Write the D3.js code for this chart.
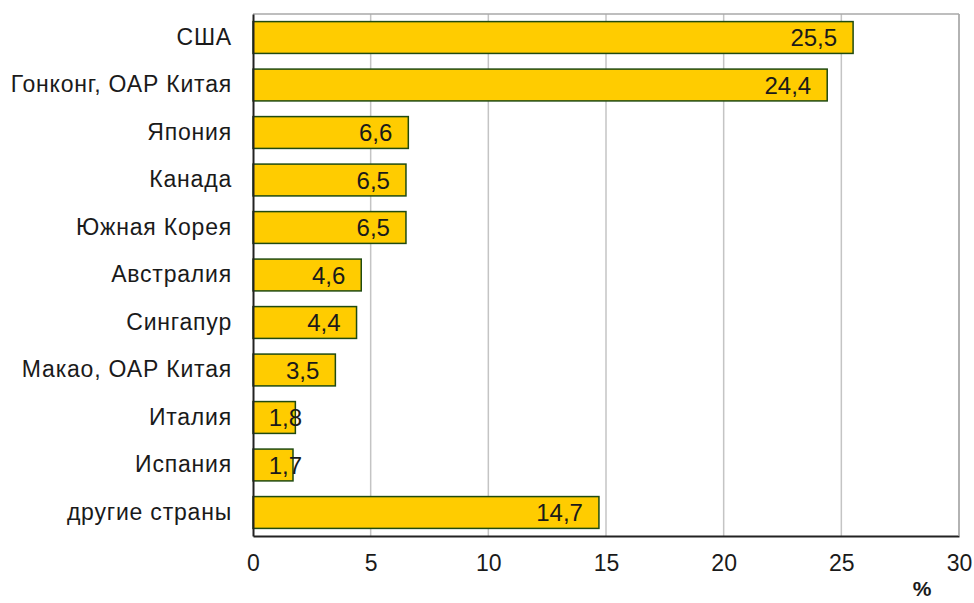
<!DOCTYPE html>
<html>
<head>
<meta charset="utf-8">
<script src="https://cdn.jsdelivr.net/npm/d3@7"></script>
<style>
  body { margin: 0; background: #fff; }
  text { font-family: "Liberation Sans", Arial, sans-serif; fill: #1a1a1a; }
</style>
</head>
<body>
<div id="chart"></div>
<script>
//- Data
const countries = ["США", "Гонконг, ОАР Китая", "Япония", "Канада", "Южная Корея",
    "Австралия", "Сингапур", "Макао, ОАР Китая", "Италия", "Испания", "другие страны"];
const shares = [25.5, 24.4, 6.6, 6.5, 6.5, 4.6, 4.4, 3.5, 1.8, 1.7, 14.7];
const xTicks = [0, 5, 10, 15, 20, 25, 30];

//- Layout
const width = 974, height = 603;
const margin = { top: 14, right: 15, bottom: 67, left: 253 };
const chartWidth = 959 - margin.left;
const chartHeight = 536 - margin.top;

let svg = d3.select("#chart").append("svg")
    .attr("width", width)
    .attr("height", height);

let g = svg.append("g")
    .attr("transform", `translate(${margin.left}, ${margin.top})`);

let xScale = d3.scaleLinear().domain([0, 30]).range([0, chartWidth]);
let yScale = d3.scaleBand().domain(countries).range([0, chartHeight]).paddingInner(0.33).paddingOuter(0.16);

//- Gridlines
g.selectAll("line.grid")
    .data(xTicks.slice(1))
    .enter()
    .append("line")
    .attr("x1", d => xScale(d)).attr("x2", d => xScale(d))
    .attr("y1", 0).attr("y2", chartHeight)
    .attr("stroke", "#c4c4c4").attr("stroke-width", 1.5);

//- Frame: top gray
g.append("line").attr("x1", 0).attr("x2", chartWidth).attr("y1", 0).attr("y2", 0)
    .attr("stroke", "#a8a8a8").attr("stroke-width", 1.5);

//- Bars
g.selectAll("rect.bar")
    .data(shares)
    .enter()
    .append("rect")
    .attr("x", 0)
    .attr("y", (d, i) => yScale(countries[i]))
    .attr("width", d => xScale(d))
    .attr("height", yScale.bandwidth())
    .attr("fill", "#ffcc00")
    .attr("stroke", "#1f4a10")
    .attr("stroke-width", 1.5);

//- Value labels
g.selectAll("text.val")
    .data(shares)
    .enter()
    .append("text")
    .attr("x", d => Math.max(xScale(d) - 16, xScale(0) + 49))
    .attr("y", (d, i) => yScale(countries[i]) + yScale.bandwidth() / 2)
    .attr("dy", "0.36em")
    .attr("text-anchor", "end")
    .attr("font-size", 24)
    .text(d => String(d).replace(".", ","));

//- Axes
let xAxis = d3.axisBottom(xScale).tickValues(xTicks).tickSize(0).tickPadding(19)
    .tickFormat(d => d);
let xg = g.append("g").attr("transform", `translate(0, ${chartHeight})`).call(xAxis);
xg.select(".domain").attr("stroke", "#222").attr("stroke-width", 2);
xg.selectAll("text").attr("font-size", 23).attr("font-family", "'Liberation Sans', Arial, sans-serif");

// right border gray
g.append("line").attr("x1", chartWidth).attr("x2", chartWidth).attr("y1", 0).attr("y2", chartHeight)
    .attr("stroke", "#a8a8a8").attr("stroke-width", 1.5);

let yAxis = d3.axisLeft(yScale).tickSize(0).tickPadding(21);
let yg = g.append("g").call(yAxis);
yg.select(".domain").attr("stroke", "#222").attr("stroke-width", 2);
yg.selectAll("text").attr("font-size", 23).attr("letter-spacing", 0.8)
    .attr("font-family", "'Liberation Sans', Arial, sans-serif");

//- Unit label
svg.append("text")
    .attr("x", 922).attr("y", 596)
    .attr("text-anchor", "middle")
    .attr("font-size", 21)
    .attr("font-weight", "bold")
    .text("%");
</script>
</body>
</html>
